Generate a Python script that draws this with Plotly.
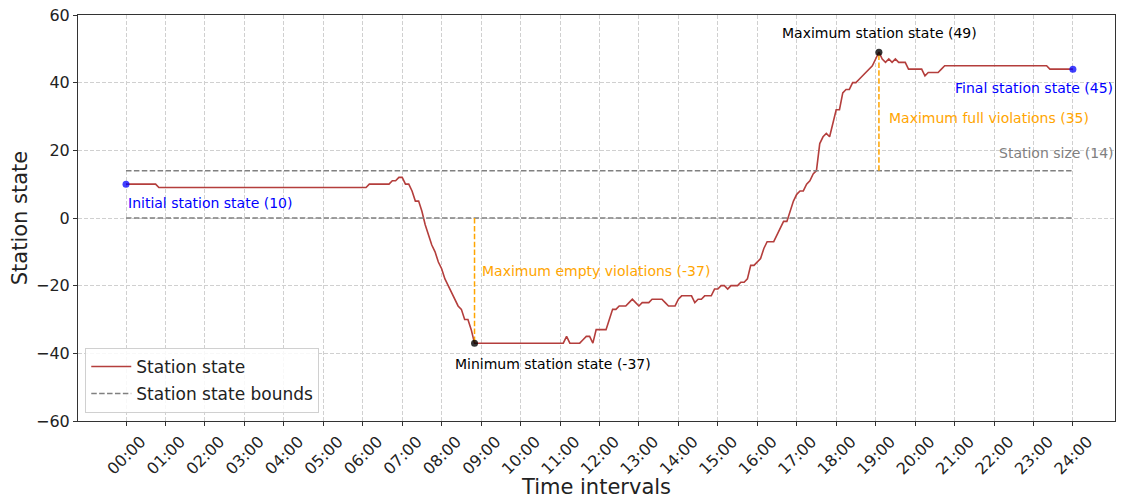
import plotly.graph_objects as go

# 5-minute intervals, 00:00 .. 24:00 (289 points)
state = [
    10, 10, 10, 10, 10, 10, 10, 10, 10, 10, 9, 9,
    9, 9, 9, 9, 9, 9, 9, 9, 9, 9, 9, 9,
    9, 9, 9, 9, 9, 9, 9, 9, 9, 9, 9, 9,
    9, 9, 9, 9, 9, 9, 9, 9, 9, 9, 9, 9,
    9, 9, 9, 9, 9, 9, 9, 9, 9, 9, 9, 9,
    9, 9, 9, 9, 9, 9, 9, 9, 9, 9, 9, 9,
    9, 9, 10, 10, 10, 10, 10, 10, 10, 11, 11, 12,
    12, 10, 10, 8, 5, 5, 2, -2, -5, -8, -10, -13,
    -15, -18, -20, -22, -24, -26, -27, -30, -30, -33, -37, -37,
    -37, -37, -37, -37, -37, -37, -37, -37, -37, -37, -37, -37,
    -37, -37, -37, -37, -37, -37, -37, -37, -37, -37, -37, -37,
    -37, -37, -35, -37, -37, -37, -37, -36, -35, -35, -37, -33,
    -33, -33, -33, -30, -27, -27, -26, -26, -26, -25, -24, -25,
    -26, -25, -25, -25, -24, -24, -24, -24, -25, -26, -26, -26,
    -24, -23, -23, -23, -23, -25, -24, -24, -23, -23, -23, -21,
    -21, -20, -20, -21, -20, -20, -20, -19, -19, -18, -14, -14,
    -13, -12, -9, -7, -7, -7, -5, -3, -1, -1, 2, 5,
    7, 8, 8, 10, 11, 13, 14, 22, 24, 25, 24, 28,
    32, 32, 37, 38, 38, 40, 40, 41, 42, 43, 44, 45,
    47, 49, 47, 46, 47, 46, 47, 46, 46, 46, 44, 44,
    44, 44, 44, 42, 43, 43, 43, 43, 44, 45, 45, 45,
    45, 45, 45, 45, 45, 45, 45, 45, 45, 45, 45, 45,
    45, 45, 45, 45, 45, 45, 45, 45, 45, 45, 45, 45,
    45, 45, 45, 45, 45, 44, 44, 44, 44, 44, 44, 44,
    44,
]
intervals = list(range(len(state)))
hour_ticks = list(range(0, 289, 12))
hour_labels = ["%02d:00" % h for h in range(25)]
station_size = 14
lower_bound = 0
initial_label = 10
final_label = 45

min_idx = min(range(len(state)), key=lambda i: (state[i], i))
max_idx = max(range(len(state)), key=lambda i: (state[i], -i))
min_val = state[min_idx]
max_val = state[max_idx]
last = intervals[-1]

LINE = "rgb(180,62,60)"
FONT = "DejaVu Sans"
BOUND_DASH = "5.5px,2.4px"

fig = go.Figure()
fig.add_trace(go.Scatter(x=intervals, y=state, mode="lines", name="Station state",
                         line=dict(color=LINE, width=1.6)))
fig.add_trace(go.Scatter(x=[0, last], y=[lower_bound, lower_bound], mode="lines",
                         name="Station state bounds", legendgroup="b",
                         line=dict(color="gray", width=1.5, dash=BOUND_DASH)))
fig.add_trace(go.Scatter(x=[0, last], y=[station_size, station_size], mode="lines",
                         showlegend=False, legendgroup="b",
                         line=dict(color="gray", width=1.5, dash=BOUND_DASH)))
fig.add_trace(go.Scatter(x=[min_idx, min_idx], y=[lower_bound, min_val], mode="lines",
                         showlegend=False, line=dict(color="orange", width=1.5, dash=BOUND_DASH)))
fig.add_trace(go.Scatter(x=[max_idx, max_idx], y=[station_size, max_val], mode="lines",
                         showlegend=False, line=dict(color="orange", width=1.5, dash=BOUND_DASH)))
fig.add_trace(go.Scatter(x=[0, last], y=[state[0], state[-1]], mode="markers",
                         showlegend=False, marker=dict(color="blue", size=7, opacity=0.75)))
fig.add_trace(go.Scatter(x=[min_idx, max_idx], y=[min_val, max_val], mode="markers",
                         showlegend=False, marker=dict(color="black", size=7, opacity=0.8)))

ann = [
    dict(x=0, y=state[0], text="Initial station state (%d)" % initial_label, xanchor="left",
         yanchor="middle", xshift=0, yshift=-19, font=dict(color="blue", size=14)),
    dict(x=min_idx, y=min_val, text="Minimum station state (%d)" % min_val, xanchor="center",
         yanchor="middle", xshift=78, yshift=-21, font=dict(color="black", size=14)),
    dict(x=min_idx, y=(lower_bound + min_val) / 2, text="Maximum empty violations (%d)" % (min_val - lower_bound),
         xanchor="left", yanchor="middle", xshift=5, yshift=10, font=dict(color="orange", size=14)),
    dict(x=max_idx, y=max_val, text="Maximum station state (%d)" % max_val, xanchor="center",
         yanchor="middle", xshift=1, yshift=19, font=dict(color="black", size=14)),
    dict(x=max_idx, y=(station_size + max_val) / 2, text="Maximum full violations (%d)" % (max_val - station_size),
         xanchor="left", yanchor="middle", xshift=8, yshift=-7, font=dict(color="orange", size=14)),
    dict(x=last, y=state[-1], text="Final station state (%d)" % final_label, xanchor="right",
         yanchor="middle", xshift=42, yshift=-19, font=dict(color="blue", size=14)),
    dict(x=last, y=station_size, text="Station size (%d)" % station_size, xanchor="right",
         yanchor="middle", xshift=43, yshift=18, font=dict(color="gray", size=14)),
]
for a in ann:
    a.update(showarrow=False, xref="x", yref="y")

fig.update_layout(
    width=1123, height=499,
    margin=dict(l=78, r=8, t=15, b=78),
    paper_bgcolor="white", plot_bgcolor="white",
    font=dict(family=FONT, color="#222"),
    annotations=ann,
    legend=dict(x=0.007, y=0.02, xanchor="left", yanchor="bottom",
                bgcolor="rgba(255,255,255,0.85)", bordercolor="#d0d0d0", borderwidth=1,
                font=dict(size=17, color="#222"), itemwidth=40, tracegroupgap=2),
    showlegend=True,
)
fig.update_xaxes(range=[-14.6, 300.8], tickmode="array", tickvals=hour_ticks, ticktext=hour_labels,
                 tickangle=-45, tickfont=dict(size=16), ticks="outside", ticklen=4,
                 tickcolor="#333", ticklabelshift=15, automargin=False,
                 showgrid=True, gridcolor="#d0d0d0", griddash="4px,2px", gridwidth=1,
                 showline=True, linecolor="#333", linewidth=1, mirror=True, zeroline=False,
                 title=dict(text="Time intervals", font=dict(size=21), standoff=6))
fig.update_yaxes(range=[-60, 60], tickvals=[-60, -40, -20, 0, 20, 40, 60], automargin=False,
                 tickfont=dict(size=16), ticks="outside", ticklen=4, tickcolor="#333",
                 showgrid=True, gridcolor="#d0d0d0", griddash="4px,2px", gridwidth=1,
                 showline=True, linecolor="#333", linewidth=1, mirror=True, zeroline=False,
                 title=dict(text="Station state", font=dict(size=21), standoff=2))

fig.write_html("out.html")
